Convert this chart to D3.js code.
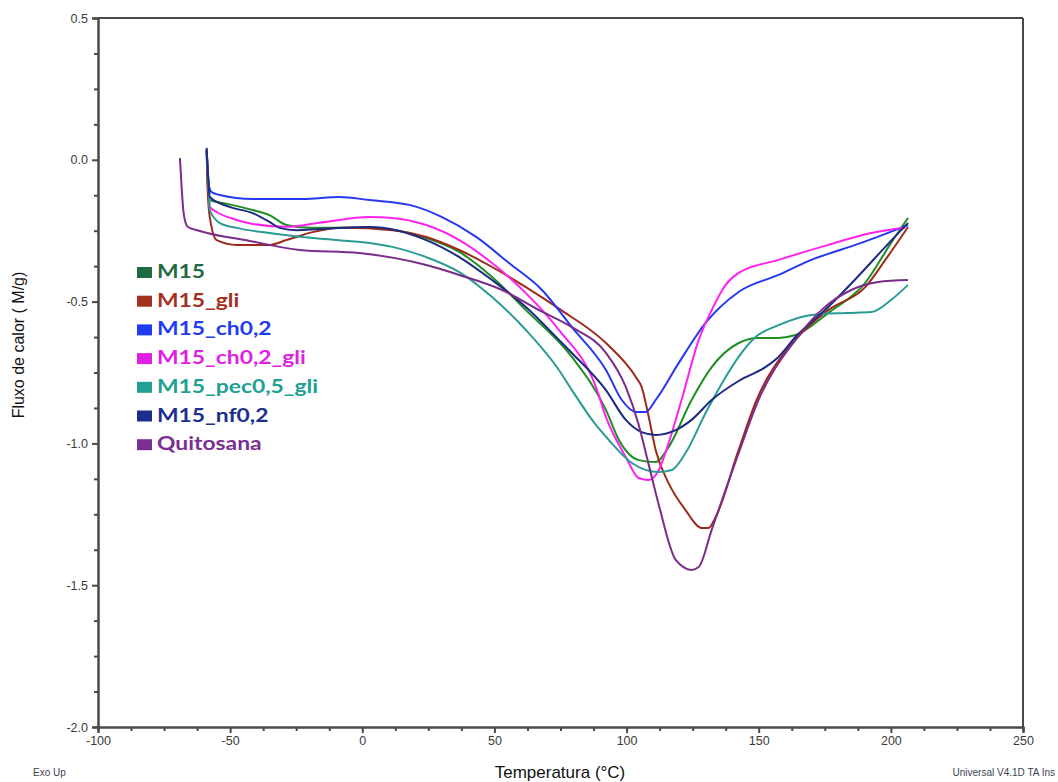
<!DOCTYPE html>
<html>
<head>
<meta charset="utf-8">
<script src="https://cdn.jsdelivr.net/npm/d3@7/dist/d3.min.js"></script>
<style>
  html, body { margin: 0; padding: 0; background: #fff; }
  svg { display: block; }
</style>
</head>
<body>
<svg id="chart" width="1058" height="782"></svg>
<script>
// DSC curves: temperature (°C) vs heat flow (W/g)
const seriesNames = ["M15", "M15_gli", "M15_ch0,2", "M15_ch0,2_gli", "M15_pec0,5_gli", "M15_nf0,2", "Quitosana"];
const lineColors = ["#1f8f24", "#9c2b1b", "#2638f0", "#ff22ee", "#2b9c95", "#1b2a82", "#7b2b8a"];
const legendColors = ["#1f6b42", "#a3311f", "#1f3cf2", "#e01fe3", "#21a093", "#1c2f8c", "#7b2f92"];

const tempM15 = [-58.9, -58.5, -57.7, -52.8, -41.5, -35.1, -28.7, -20.0, 2.7, 24.2, 36.7, 49.1, 61.9, 79.3, 92.2, 97.1, 104.6, 111.0, 115.9, 124.6, 132.2, 142.4, 149.9, 157.5, 163.9, 176.3, 190.3, 200.1, 206.5];
const flowM15 = [0.035, -0.089, -0.142, -0.152, -0.177, -0.195, -0.230, -0.240, -0.240, -0.276, -0.325, -0.413, -0.530, -0.695, -0.882, -0.988, -1.059, -1.066, -1.013, -0.847, -0.731, -0.646, -0.628, -0.628, -0.618, -0.540, -0.434, -0.293, -0.205];

const tempGli = [-58.9, -58.5, -57.7, -55.1, -47.5, -35.1, -28.7, -18.8, -7.5, 11.4, 24.2, 36.7, 49.1, 61.9, 74.4, 92.2, 103.5, 105.7, 108.4, 111.0, 115.9, 122.3, 128.4, 131.0, 133.7, 142.4, 149.2, 163.9, 176.3, 190.3, 197.9, 206.5];
const flowGli = [0.035, -0.106, -0.202, -0.283, -0.300, -0.300, -0.283, -0.255, -0.240, -0.248, -0.272, -0.318, -0.378, -0.449, -0.525, -0.646, -0.766, -0.801, -0.907, -1.023, -1.140, -1.235, -1.298, -1.298, -1.260, -1.023, -0.847, -0.635, -0.530, -0.449, -0.353, -0.237];

const tempCh = [-58.9, -58.1, -57.0, -53.9, -41.5, -22.6, -8.6, 2.7, 17.8, 30.2, 43.1, 55.5, 68.0, 79.3, 92.2, 98.2, 103.5, 107.2, 111.0, 119.7, 129.9, 142.4, 157.5, 169.9, 188.8, 206.5];
const flowCh = [0.035, -0.089, -0.114, -0.124, -0.138, -0.138, -0.131, -0.142, -0.159, -0.202, -0.272, -0.364, -0.459, -0.590, -0.741, -0.847, -0.889, -0.889, -0.847, -0.717, -0.575, -0.466, -0.406, -0.353, -0.293, -0.230];

const tempChGli = [-58.9, -58.1, -57.7, -55.1, -47.5, -41.5, -28.7, -16.2, 2.7, 11.4, 24.2, 36.7, 49.1, 61.9, 74.4, 88.4, 92.2, 99.7, 104.6, 108.4, 112.2, 115.9, 120.8, 127.3, 132.2, 137.5, 142.4, 157.5, 176.3, 192.6, 205.4];
const flowChGli = [0.035, -0.106, -0.166, -0.184, -0.212, -0.226, -0.236, -0.222, -0.202, -0.205, -0.230, -0.283, -0.364, -0.470, -0.600, -0.801, -0.907, -1.048, -1.122, -1.129, -1.094, -0.999, -0.847, -0.635, -0.530, -0.441, -0.399, -0.353, -0.300, -0.258, -0.240];

const tempPec = [-58.9, -58.1, -57.7, -53.9, -47.5, -35.1, -22.6, -9.8, 2.7, 11.4, 24.2, 36.7, 49.1, 61.9, 74.4, 79.3, 88.4, 93.3, 102.0, 112.2, 117.1, 122.3, 129.9, 137.5, 142.4, 148.8, 157.5, 169.9, 182.8, 192.6, 200.1, 206.5];
const flowPec = [0.035, -0.106, -0.177, -0.223, -0.240, -0.258, -0.272, -0.283, -0.293, -0.307, -0.343, -0.396, -0.484, -0.600, -0.741, -0.812, -0.935, -0.988, -1.069, -1.101, -1.094, -1.034, -0.893, -0.766, -0.695, -0.625, -0.583, -0.547, -0.540, -0.537, -0.494, -0.441];

const tempNf = [-58.9, -58.1, -57.7, -50.2, -41.5, -35.1, -31.3, -24.9, -16.2, 2.7, 24.2, 36.7, 49.1, 61.9, 74.4, 79.3, 92.2, 99.7, 105.7, 111.0, 118.6, 124.6, 132.2, 142.4, 152.5, 157.5, 163.9, 176.3, 188.8, 197.9, 206.5];
const flowNf = [0.042, -0.089, -0.131, -0.166, -0.188, -0.219, -0.240, -0.248, -0.244, -0.237, -0.283, -0.343, -0.424, -0.519, -0.635, -0.681, -0.812, -0.917, -0.960, -0.970, -0.953, -0.917, -0.847, -0.780, -0.731, -0.695, -0.625, -0.519, -0.399, -0.307, -0.223];

const tempQuit = [-69.0, -68.3, -67.5, -66.0, -61.5, -42.6, -23.7, -1.1, 24.2, 36.7, 52.9, 66.9, 79.3, 92.2, 99.7, 104.6, 108.4, 112.2, 118.6, 124.6, 127.3, 132.2, 142.4, 149.9, 163.9, 173.7, 185.0, 195.2, 206.5];
const flowQuit = [0.006, -0.106, -0.195, -0.237, -0.251, -0.286, -0.318, -0.329, -0.371, -0.406, -0.459, -0.530, -0.590, -0.681, -0.801, -0.935, -1.076, -1.217, -1.411, -1.446, -1.436, -1.305, -1.034, -0.847, -0.635, -0.530, -0.459, -0.431, -0.424];

const temps = [tempM15, tempGli, tempCh, tempChGli, tempPec, tempNf, tempQuit];
const flows = [flowM15, flowGli, flowCh, flowChGli, flowPec, flowNf, flowQuit];

const xTicks = [-100, -50, 0, 50, 100, 150, 200, 250];
const yTicks = [0.5, 0.0, -0.5, -1.0, -1.5, -2.0];

const svg = d3.select("#chart");
const plotLeft = 98, plotRight = 1023, plotTop = 18, plotBottom = 727;

const x = d3.scaleLinear().domain([-100, 250]).range([plotLeft, plotRight]);
const y = d3.scaleLinear().domain([-2.0, 0.5]).range([plotBottom, plotTop]);

const axisColor = "#4a4a4a";
const labelColor = "#3a3a3a";

// minor ticks
const xMinor = d3.range(-100, 250.01, 12.5).filter(v => !xTicks.includes(v));
const yMinor = d3.range(-2.0, 0.5001, 0.125).map(v => +v.toFixed(3)).filter(v => !yTicks.some(t => Math.abs(t - v) < 1e-6));

const gx = svg.append("g").attr("transform", `translate(0,${plotBottom})`)
  .call(d3.axisBottom(x).tickValues(xTicks).tickSize(6).tickPadding(3));
const gxm = svg.append("g").attr("transform", `translate(0,${plotBottom})`)
  .call(d3.axisBottom(x).tickValues(xMinor).tickFormat("").tickSize(4));
const gy = svg.append("g").attr("transform", `translate(${plotLeft},0)`)
  .call(d3.axisLeft(y).tickValues(yTicks).tickSize(6).tickPadding(4));
const gym = svg.append("g").attr("transform", `translate(${plotLeft},0)`)
  .call(d3.axisLeft(y).tickValues(yMinor).tickFormat("").tickSize(4));

[gx, gxm, gy, gym].forEach(g => {
  g.select(".domain").attr("stroke", axisColor).attr("stroke-width", 2);
  g.selectAll(".tick line").attr("stroke", axisColor).attr("stroke-width", 2);
  g.selectAll(".tick text").attr("fill", labelColor)
    .style("font-family", "'Liberation Sans', Arial, sans-serif").style("font-size", "12.5px");
});
gy.selectAll(".tick text").text(d => d < 0 ? "-" + Math.abs(d).toFixed(1) : d.toFixed(1));
gx.selectAll(".tick text").text(d => d < 0 ? "-" + Math.abs(d) : String(d));

// frame top and right
svg.append("line").attr("x1", plotLeft).attr("x2", plotRight).attr("y1", plotTop).attr("y2", plotTop)
  .attr("stroke", axisColor).attr("stroke-width", 2);
svg.append("line").attr("x1", plotRight).attr("x2", plotRight).attr("y1", plotTop).attr("y2", plotBottom)
  .attr("stroke", axisColor).attr("stroke-width", 2);

// curves
const line = d3.line().x(d => x(d[0])).y(d => y(d[1])).curve(d3.curveMonotoneX);
const plot = svg.append("g");
seriesNames.forEach((name, i) => {
  const pts = temps[i].map((t, j) => [t, flows[i][j]]);
  plot.append("path").datum(pts)
    .attr("d", line)
    .attr("fill", "none")
    .attr("stroke", lineColors[i])
    .attr("stroke-width", 2)
    .attr("stroke-linejoin", "round");
});

// legend (labels drawn wide, as in the original export)
const legend = svg.append("g").attr("transform", "translate(137,272)");
seriesNames.forEach((name, i) => {
  const g = legend.append("g").attr("transform", `translate(0,${i * 28.7})`);
  g.append("rect").attr("x", 0).attr("y", -5).attr("width", 15).attr("height", 11).attr("fill", legendColors[i]);
  g.append("text").attr("transform", "translate(20,6) scale(1.27,1)").text(name)
    .attr("fill", legendColors[i])
    .style("font-family", "Lato, 'Open Sans', sans-serif")
    .style("font-weight", "bold").style("font-size", "18px");
});

// axis titles
svg.append("text").attr("transform", "translate(24,345) rotate(-90)")
  .attr("text-anchor", "middle").text("Fluxo de calor ( M/g)")
  .style("font-family", "'Liberation Sans', Arial, sans-serif").style("font-size", "16px").attr("fill", "#111");
svg.append("text").attr("x", 560).attr("y", 778)
  .attr("text-anchor", "middle").text("Temperatura (°C)")
  .style("font-family", "'Liberation Sans', Arial, sans-serif").style("font-size", "17px").attr("fill", "#111");

svg.append("text").attr("x", 33).attr("y", 776).text("Exo Up")
  .style("font-family", "'Liberation Sans', Arial, sans-serif").style("font-size", "10px").attr("fill", "#3a4450");
svg.append("text").attr("x", 1055).attr("y", 776).attr("text-anchor", "end").text("Universal V4.1D TA Ins")
  .style("font-family", "'Liberation Sans', Arial, sans-serif").style("font-size", "10px").attr("fill", "#3a4450");
</script>
</body>
</html>
